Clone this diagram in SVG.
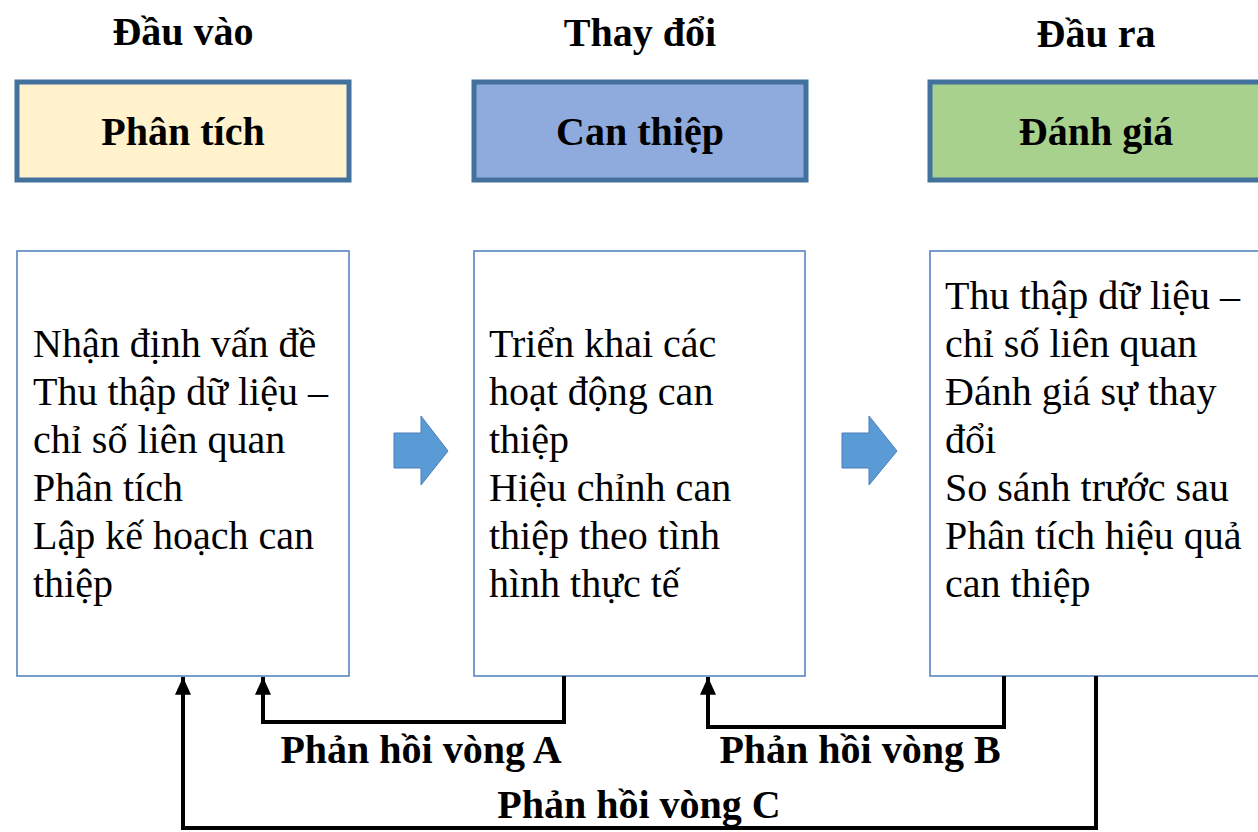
<svg xmlns="http://www.w3.org/2000/svg" width="1258" height="832" viewBox="0 0 1258 832">
<style>
.hdr{font-family:"Liberation Serif",serif;font-weight:bold;font-size:40px;fill:#000;text-anchor:middle}
.ttl{font-family:"Liberation Serif",serif;font-weight:bold;font-size:40px;fill:#000;text-anchor:middle}
.body{font-family:"Liberation Serif",serif;font-size:40px;fill:#000}
.lbl{font-family:"Liberation Serif",serif;font-weight:bold;font-size:40px;fill:#000;text-anchor:middle}
.top{stroke:#41719C;stroke-width:5}
.low{fill:#fff;stroke:#4A7EBB;stroke-width:1.5}
.blk{fill:#5B9BD5;stroke:#4A7EBB;stroke-width:1}
.conn{fill:none;stroke:#000;stroke-width:4}
</style>
<defs>
<marker id="ah" viewBox="0 0 10 9" refX="10" refY="4.5" markerWidth="4.5" markerHeight="4" orient="auto" markerUnits="strokeWidth">
<path d="M0,0 L10,4.5 L0,9 z" fill="#000"/>
</marker>
</defs>
<rect width="1258" height="832" fill="#fff"/>
<g id="headers">
<text class="hdr" x="183" y="45">Đầu vào</text>
<text class="hdr" x="640" y="46">Thay đổi</text>
<text class="hdr" x="1096" y="47">Đầu ra</text>
</g>
<g id="node-phantich">
<rect class="top" x="17" y="82" width="332" height="98" fill="#FFF2CC"/>
<text class="ttl" x="183" y="145">Phân tích</text>
</g>
<g id="node-canthiep">
<rect class="top" x="474" y="82" width="332" height="98" fill="#8FAADC"/>
<text class="ttl" x="640" y="145">Can thiệp</text>
</g>
<g id="node-danhgia">
<rect class="top" x="930" y="82" width="340" height="98" fill="#A9D18E"/>
<text class="ttl" x="1096" y="145">Đánh giá</text>
</g>
<g id="node-input">
<rect class="low" x="17" y="251" width="332" height="425"/>
<text class="body" x="33" y="357">Nhận định vấn đề</text>
<text class="body" x="33" y="405">Thu thập dữ liệu –</text>
<text class="body" x="33" y="453">chỉ số liên quan</text>
<text class="body" x="33" y="501">Phân tích</text>
<text class="body" x="33" y="549">Lập kế hoạch can</text>
<text class="body" x="33" y="597">thiệp</text>
</g>
<g id="node-change">
<rect class="low" x="474" y="251" width="331" height="425"/>
<text class="body" x="489" y="357">Triển khai các</text>
<text class="body" x="489" y="405">hoạt động can</text>
<text class="body" x="489" y="453">thiệp</text>
<text class="body" x="489" y="501">Hiệu chỉnh can</text>
<text class="body" x="489" y="549">thiệp theo tình</text>
<text class="body" x="489" y="597">hình thực tế</text>
</g>
<g id="node-output">
<rect class="low" x="930" y="251" width="340" height="425"/>
<text class="body" x="945" y="309">Thu thập dữ liệu –</text>
<text class="body" x="945" y="357">chỉ số liên quan</text>
<text class="body" x="945" y="405">Đánh giá sự thay</text>
<text class="body" x="945" y="453">đổi</text>
<text class="body" x="945" y="501">So sánh trước sau</text>
<text class="body" x="945" y="549">Phân tích hiệu quả</text>
<text class="body" x="945" y="597">can thiệp</text>
</g>
<g id="block-arrows">
<polygon class="blk" points="394,433 421,433 421,416 448,451 421,485 421,468 394,468"/>
<polygon class="blk" points="842,433 869,433 869,416 897,451 869,485 869,468 842,468"/>
</g>
<g id="connectors">
<polyline class="conn" points="564,676 564,722 263,722 263,677" marker-end="url(#ah)"/>
<polyline class="conn" points="1004,676 1004,727 708,727 708,677" marker-end="url(#ah)"/>
<polyline class="conn" points="1096,676 1096,828 183,828 183,677" marker-end="url(#ah)"/>
</g>
<g id="labels">
<text class="lbl" x="421" y="763">Phản hồi vòng A</text>
<text class="lbl" x="860" y="763">Phản hồi vòng B</text>
<text class="lbl" x="639" y="818">Phản hồi vòng C</text>
</g>
</svg>
